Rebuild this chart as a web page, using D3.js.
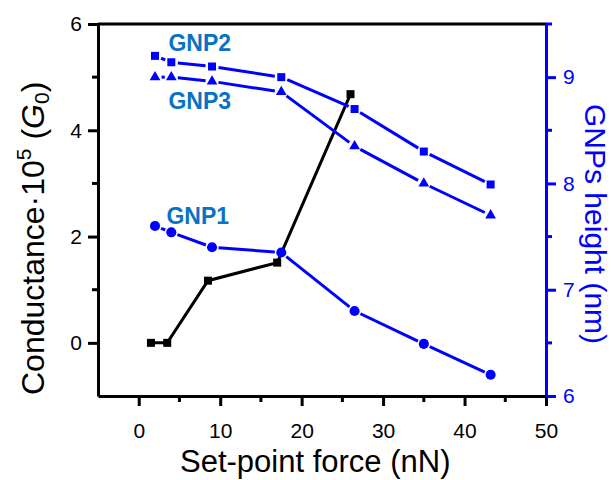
<!DOCTYPE html>
<html>
<head>
<meta charset="utf-8">
<script src="https://cdn.jsdelivr.net/npm/d3@7"></script>
<style>
  html, body { margin: 0; padding: 0; background: #fff; }
  svg { display: block; font-family: "Liberation Sans", Arial, sans-serif; }
</style>
</head>
<body>
<svg id="chart" width="611" height="480"></svg>
<script>
'use strict';
// conductance (left axis)
var forceCond = [1.5, 3.5, 8.5, 17, 26];
var conductance = [0, 0, 1.17, 1.51, 4.68];
// GNP heights (right axis)
var forceGnp = [2, 4, 9, 17.5, 26.5, 35, 43.2];
var gnp1 = [7.60, 7.54, 7.40, 7.35, 6.80, 6.49, 6.20];
var gnp2 = [9.20, 9.14, 9.10, 9.00, 8.70, 8.30, 7.99];
var gnp3 = [9.00, 9.00, 8.96, 8.86, 8.35, 8.00, 7.70];
var xTicks = [0, 10, 20, 30, 40, 50];
var yLeftTicks = [0, 2, 4, 6];
var yRightTicks = [6, 7, 8, 9];

var svg = d3.select('#chart');
var plotL = 98, plotR = 546, plotT = 24, plotB = 396;
var blue = '#0000ff', labelBlue = '#0a72c4';
var fmt = d3.format('d');

var x = d3.scaleLinear().domain([-5, 50]).range([plotL, plotR]);
var yL = d3.scaleLinear().domain([-1, 6]).range([plotB, plotT]);
var yR = d3.scaleLinear().domain([6, 9.5]).range([plotB, plotT]);

// top frame line
svg.append('line')
    .attr('x1', plotL).attr('x2', plotR)
    .attr('y1', plotT).attr('y2', plotT)
    .attr('stroke', 'black').attr('stroke-width', 3);

function styleAxis(g, color) {
    g.select('.domain').attr('stroke', color).attr('stroke-width', 3);
    g.selectAll('.tick line').attr('stroke', color).attr('stroke-width', 3);
    g.selectAll('.tick text').attr('fill', color).style('font-size', '21px')
        .style('font-family', '"Liberation Sans", Arial, sans-serif');
}

// minor ticks
function minor(g, vals, scale, orient, color) {
    g.selectAll(null).data(vals).enter().append('line')
        .attr('stroke', color).attr('stroke-width', 3)
        .each(function(v) {
            var el = d3.select(this);
            if (orient === 'bottom') el.attr('x1', scale(v)).attr('x2', scale(v)).attr('y1', 0).attr('y2', 6);
            if (orient === 'left') el.attr('y1', scale(v)).attr('y2', scale(v)).attr('x1', 0).attr('x2', -6);
            if (orient === 'right') el.attr('y1', scale(v)).attr('y2', scale(v)).attr('x1', 0).attr('x2', 6);
        });
}

var gx = svg.append('g').attr('transform', 'translate(0,' + plotB + ')')
    .call(d3.axisBottom(x).tickValues(xTicks).tickFormat(fmt).tickSizeInner(10).tickSizeOuter(0).tickPadding(17));
styleAxis(gx, 'black');
minor(gx, [5, 15, 25, 35, 45], x, 'bottom', 'black');

var gl = svg.append('g').attr('transform', 'translate(' + plotL + ',0)')
    .call(d3.axisLeft(yL).tickValues(yLeftTicks).tickFormat(fmt).tickSizeInner(10).tickSizeOuter(0).tickPadding(6));
styleAxis(gl, 'black');
minor(gl, [1, 3, 5], yL, 'left', 'black');

var gr = svg.append('g').attr('transform', 'translate(' + plotR + ',0)')
    .call(d3.axisRight(yR).tickValues(yRightTicks).tickFormat(fmt).tickSizeInner(10).tickSizeOuter(0).tickPadding(7));
styleAxis(gr, blue);
minor(gr, [6.5, 7.5, 8.5, 9.5], yR, 'right', blue);

// conductance series
var condData = forceCond.map(function(f, i) { return [x(f), yL(conductance[i])]; });
svg.append('path')
    .attr('d', d3.line()(condData))
    .attr('fill', 'none').attr('stroke', 'black').attr('stroke-width', 3);
svg.selectAll(null).data(condData).enter().append('rect')
    .attr('x', function(d) { return d[0] - 4; })
    .attr('y', function(d) { return d[1] - 4; })
    .attr('width', 8).attr('height', 8).attr('fill', 'black');

// GNP series, lines with small gaps around symbols
function gnpSeries(vals, symbol, size) {
    var pts = forceGnp.map(function(f, i) { return [x(f), yR(vals[i])]; });
    var gap = 6.5;
    var segs = d3.pairs(pts).map(function(p) {
        var dx = p[1][0] - p[0][0], dy = p[1][1] - p[0][1];
        var len = Math.sqrt(dx * dx + dy * dy);
        var ux = dx / len, uy = dy / len;
        return [[p[0][0] + ux * gap, p[0][1] + uy * gap], [p[1][0] - ux * gap, p[1][1] - uy * gap]];
    });
    svg.selectAll(null).data(segs).enter().append('path')
        .attr('d', function(s) { return d3.line()(s); })
        .attr('stroke', blue).attr('stroke-width', 3).attr('fill', 'none');
    svg.selectAll(null).data(pts).enter().append('path')
        .attr('transform', function(d) { return 'translate(' + d[0] + ',' + d[1] + ')'; })
        .attr('d', d3.symbol().type(symbol).size(size))
        .attr('fill', blue);
}
gnpSeries(gnp1, d3.symbolCircle, 80);
gnpSeries(gnp2, d3.symbolSquare, 64);
gnpSeries(gnp3, d3.symbolTriangle, 50);

// series labels
var labels = [
    {text: 'GNP2', f: 3.65, h: 9.25},
    {text: 'GNP3', f: 3.65, h: 8.70},
    {text: 'GNP1', f: 3.4, h: 7.62}
];
svg.selectAll(null).data(labels).enter().append('text')
    .attr('x', function(d) { return x(d.f); })
    .attr('y', function(d) { return yR(d.h); })
    .attr('fill', labelBlue)
    .style('font-size', '23px').style('font-weight', 'bold')
    .text(function(d) { return d.text; });

// axis titles
svg.append('text')
    .attr('x', 180).attr('y', 472)
    .style('font-size', '31px')
    .text('Set-point force (nN)');

var lt = svg.append('text')
    .attr('transform', 'translate(44,395) rotate(-90)')
    .style('font-size', '32px');
lt.append('tspan').text('Conductance\u00b710');
lt.append('tspan').attr('dy', -13).style('font-size', '21px').text('5');
lt.append('tspan').attr('dy', 13).text(' (');
lt.append('tspan').style('font-style', 'italic').text('G');
lt.append('tspan').attr('dy', 5).style('font-size', '21px').text('0');
lt.append('tspan').attr('dy', -5).text(')');

svg.append('text')
    .attr('transform', 'translate(585,104) rotate(90)')
    .style('font-size', '30px')
    .attr('fill', blue)
    .text('GNPs height (nm)');
</script>
</body>
</html>
